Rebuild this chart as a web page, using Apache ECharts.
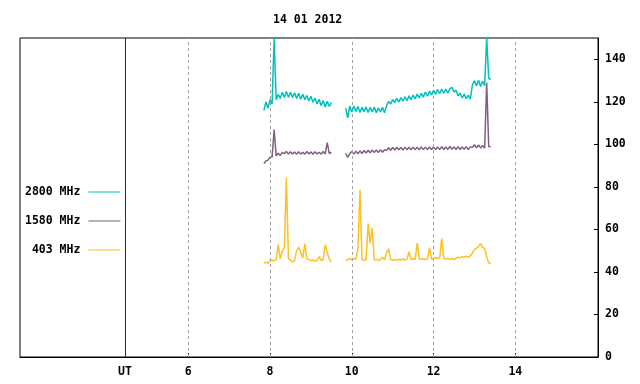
<!DOCTYPE html>
<html>
<head>
<meta charset="utf-8">
<script src="https://cdn.jsdelivr.net/npm/echarts@6/dist/echarts.min.js"></script>
<style>html,body{margin:0;padding:0;background:#fff}#c{width:640px;height:384px}</style>
</head>
<body>
<div id="c"></div>
<script>
const title = '14 01 2012';
const seriesNames = ['2800 MHz', '1580 MHz', '403 MHz'];
const xTickHours = [6, 8, 10, 12, 14];
const utHour = 4.451;
const yTicks = [0, 20, 40, 60, 80, 100, 120, 140];

const hours1 = [7.85,7.90,7.95,8.00,8.05,8.10,8.15,8.20,8.25,8.30,8.35,8.40,8.45,8.50,8.55,8.60,8.65,8.70,8.75,8.80,8.85,8.90,8.95,9.00,9.05,9.10,9.15,9.20,9.25,9.30,9.35,9.40,9.45,9.50];
const cyan1 = [116.0,120.0,117.0,121.0,119.0,150,121.0,123.5,121.5,124.5,122.0,124.8,122.0,124.5,122.0,124.2,121.6,124.0,121.2,123.6,121.0,123.0,120.4,122.6,119.8,121.8,119.0,121.2,118.2,120.6,117.6,120.2,117.8,119.6];
const purple1 = [91.0,92.2,92.6,94.0,94.0,107,94.6,95.8,94.8,96.2,95.6,96.6,95.4,96.5,95.5,96.4,95.3,96.5,95.4,96.3,95.4,96.6,95.5,96.4,95.3,96.5,95.5,96.3,95.4,96.6,95.5,100.8,95.6,96.3];
const orange1 = [44.2,44.6,44.0,45.2,45.6,45.3,45.8,52.8,46.2,50.0,51.3,84.3,46.3,45.6,44.7,45.4,50.0,51.7,49.4,46.5,53.3,46.4,45.8,45.3,45.6,45.1,45.5,47.2,45.4,45.7,52.8,49.0,46.0,44.8];

const gapHour = 9.65;

const hours2 = [9.85,9.90,9.95,10.00,10.05,10.10,10.15,10.20,10.25,10.30,10.35,10.40,10.45,10.50,10.55,10.60,10.65,10.70,10.75,10.80,10.85,10.90,10.95,11.00,11.05,11.10,11.15,11.20,11.25,11.30,11.35,11.40,11.45,11.50,11.55,11.60,11.65,11.70,11.75,11.80,11.85,11.90,11.95,12.00,12.05,12.10,12.15,12.20,12.25,12.30,12.35,12.40,12.45,12.50,12.55,12.60,12.65,12.70,12.75,12.80,12.85,12.90,12.95,13.00,13.05,13.10,13.15,13.20,13.25,13.30,13.35,13.40];
const cyan2 = [117.0,112.5,118.0,115.2,118.0,115.4,117.8,115.0,117.4,115.3,117.6,115.0,117.4,115.2,117.6,114.9,117.2,115.2,117.4,114.8,118.0,120.2,119.0,121.0,119.6,121.6,119.8,122.0,120.3,122.4,120.5,122.8,121.0,123.2,121.4,123.6,121.8,124.0,122.2,124.6,122.6,125.0,123.2,125.4,123.6,125.8,123.8,126.0,124.0,126.0,124.0,126.2,126.8,124.6,125.4,122.8,124.0,121.8,123.6,121.4,123.2,121.2,128.0,130.0,127.4,130.2,127.2,129.8,127.6,150,131.0,130.5];
const purple2 = [95.8,93.8,95.6,96.6,95.4,96.8,95.6,96.9,95.7,97.1,95.9,97.2,96.0,97.3,96.1,97.3,96.2,97.4,96.3,97.4,97.2,98.4,97.2,98.5,97.3,98.6,97.4,98.5,97.3,98.7,97.5,98.6,97.4,98.7,97.5,98.6,97.4,98.8,97.5,98.7,97.5,98.8,97.6,98.7,97.5,98.8,97.6,98.9,97.6,98.8,97.6,99.0,97.7,98.8,97.6,98.9,97.6,98.8,97.7,98.9,97.6,98.8,98.6,99.8,98.4,99.7,98.3,99.5,98.2,129.0,99.0,98.8];
const orange2 = [45.4,45.8,46.2,45.8,46.3,45.9,50.9,78.5,45.9,45.4,45.8,62.7,53.5,60.7,45.6,45.9,45.4,45.8,46.9,45.7,49.0,50.9,45.8,45.5,45.9,45.4,46.0,45.6,46.1,45.6,45.9,49.5,45.8,46.2,46.0,53.6,46.3,45.9,46.2,45.8,46.1,51.4,46.0,46.4,46.8,46.2,46.6,55.7,46.3,46.0,46.4,45.9,46.3,45.8,46.5,46.9,46.6,47.2,46.9,47.4,47.0,47.6,48.8,50.5,51.2,52.0,53.3,51.5,50.9,47.0,44.2,44.0];

const colors = ['#00c0c0', '#7f6080', '#ffc020'];

function build(v1, v2) {
  return hours1.map((h, i) => [h, v1[i]])
    .concat([[gapHour, null]])
    .concat(hours2.map((h, i) => [h, v2[i]]));
}
const seriesData = [build(cyan1, cyan2), build(purple1, purple2), build(orange1, orange2)];

const FONT = 'DejaVu Sans Mono';
const chart = echarts.init(document.getElementById('c'), null, {renderer: 'canvas'});
chart.setOption({
  animation: false,
  backgroundColor: '#fff',
  title: {
    text: title, left: 273, top: 14, padding: 0,
    textStyle: {fontFamily: FONT, fontSize: 11.5, fontWeight: 'bold', color: '#000'}
  },
  legend: {
    orient: 'vertical', left: 20, top: 181, align: 'right', itemGap: 17,
    itemWidth: 32, itemHeight: 1, icon: 'rect',
    data: seriesNames,
    formatter: n => n.padStart(8, ' '),
    textStyle: {fontFamily: FONT, fontSize: 11.5, fontWeight: 'bold', color: '#000', padding: [0, 3, 0, 0]}
  },
  grid: {left: 20, top: 38, right: 42, bottom: 27, show: true, borderColor: '#000', borderWidth: 1, containLabel: false},
  xAxis: {
    type: 'value', min: 1.883, max: 16.023,
    axisLine: {lineStyle: {color: '#000', width: 1}},
    axisTick: {inside: true, length: 4, customValues: xTickHours, lineStyle: {color: '#000'}},
    axisLabel: {
      customValues: [utHour].concat(xTickHours),
      formatter: v => (v < 5 ? 'UT' : String(v)),
      fontFamily: FONT, fontSize: 11.5, fontWeight: 'bold', color: '#000', margin: 9
    },
    splitLine: {show: false}
  },
  yAxis: {
    type: 'value', position: 'right', min: 0, max: 150,
    axisLine: {show: true, lineStyle: {color: '#000', width: 1}},
    axisTick: {inside: true, length: 4, customValues: yTicks, lineStyle: {color: '#000'}},
    axisLabel: {customValues: yTicks, fontFamily: FONT, fontSize: 11.5, fontWeight: 'bold', color: '#000', margin: 7},
    splitLine: {show: false}
  },
  series: seriesNames.map((name, k) => ({
    name, type: 'line', data: seriesData[k], showSymbol: false, symbol: 'none',
    connectNulls: false, clip: true, color: colors[k],
    lineStyle: {width: 1.5, color: colors[k]},
    z: 3 - k + 2,
    markLine: k === 0 ? {
      silent: true, symbol: 'none', label: {show: false}, animation: false,
      data: xTickHours.map(h => ({xAxis: h, lineStyle: {color: '#a0a0a0', type: [3, 3], width: 1}}))
        .concat([{xAxis: utHour, lineStyle: {color: '#8b0000', type: 'solid', width: 1}}])
    } : undefined
  }))
});
</script>
</body>
</html>
